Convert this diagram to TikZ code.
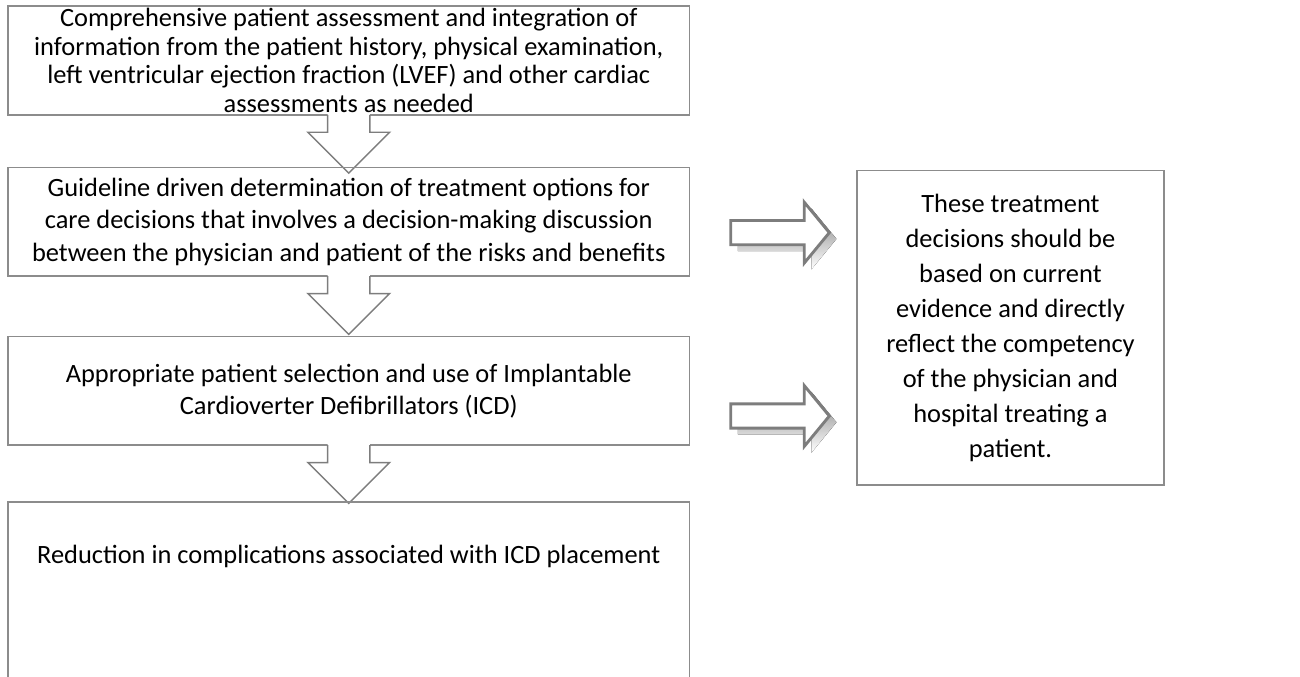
\documentclass[tikz,border=0pt]{standalone}
\usepackage{fontspec}
\setmainfont{Carlito}
\usepackage{tikz}

\definecolor{boxline}{RGB}{140,140,140}
\definecolor{arrline}{RGB}{125,125,125}
\definecolor{shade}{RGB}{172,172,172}

\tikzset{
  stepbox/.style={draw=boxline, line width=1.4pt, outer sep=0pt, inner sep=0pt,
    minimum width=570pt, minimum height=90.75pt, align=center},
  notebox/.style={stepbox, minimum width=256.5pt, minimum height=263.25pt},
}

% hollow arrow below a step box
\newcommand{\dnarrow}[1]{%
  \fill[white] (#1.south) ++(-23.5,-1.5) -- ++(0,21) -- ++(-22,0) -- ++(45.5,45.5)
    -- ++(45.5,-45.5) -- ++(-22,0) -- ++(0,-21) -- cycle;
  \draw[arrline, line width=1.2pt] (#1.south) ++(-23.5,0) -- ++(0,19.5) -- ++(-22,0)
    -- ++(45.5,45.5) -- ++(45.5,-45.5) -- ++(-22,0) -- ++(0,-19.5);
}
% shadowed block arrow pointing right
\newcommand{\rtarrow}[1]{%
  \fill[shade] (#1) ++(8,7) ++(0,-13.5) -- ++(82,0) -- ++(0,-20.5) -- ++(28,34)
    -- ++(-28,34) -- ++(0,-20.5) -- ++(-82,0) -- cycle;
  \filldraw[fill=white, draw=arrline, line width=2.4pt] (#1) ++(0,-13.5) -- ++(82,0)
    -- ++(0,-20.5) -- ++(28,34) -- ++(-28,34) -- ++(0,-20.5) -- ++(-82,0) -- cycle;
}

\begin{document}
\begin{tikzpicture}[x=0.75pt, y=-0.75pt]
	\clip (0,0) rectangle (1450,755);
	\useasboundingbox (0,0) rectangle (1450,755);

	%steps
	\node[stepbox, font=\fontsize{22.1}{24}\selectfont] (assess) at (389,67.5)
		{Comprehensive patient assessment and integration of\\
		 information from the patient history, physical examination,\\
		 left ventricular ejection fraction (LVEF) and other cardiac\\
		 assessments as needed};
	\dnarrow{assess}
	\node[stepbox, font=\fontsize{22.1}{27}\selectfont] (guide) at (389,247.5)
		{Guideline driven determination of treatment options for\\
		 care decisions that involves a decision-making discussion\\
		 between the physician and patient of the risks and benefits};
	\dnarrow{guide}
	\node[stepbox, font=\fontsize{22.1}{27}\selectfont] (select) at (389,436)
		{Appropriate patient selection and use of Implantable\\
		 Cardioverter Defibrillators (ICD)};
	\dnarrow{select}
	\node[stepbox, draw=none, font=\fontsize{22.1}{27}\selectfont] (reduce) at (389,620.5)
		{Reduction in complications associated with ICD placement};
	\draw[boxline, line width=1.4pt] (reduce.south west) ++(0,120) -- (reduce.north west)
		-- (reduce.north east) -- ++(0,240);

	%side note
	\node[notebox, font=\fontsize{22.1}{29.3}\selectfont] (note) at (1127,365.5)
		{These treatment\\ decisions should be\\ based on current\\
		 evidence and directly\\ reflect the competency\\ of the physician and\\
		 hospital treating a\\ patient.};

	%arrows
	\coordinate (toparr) at (815,259.5);
	\coordinate (lowarr) at (815,464);
	\rtarrow{toparr}
	\rtarrow{lowarr}
\end{tikzpicture}
\end{document}
